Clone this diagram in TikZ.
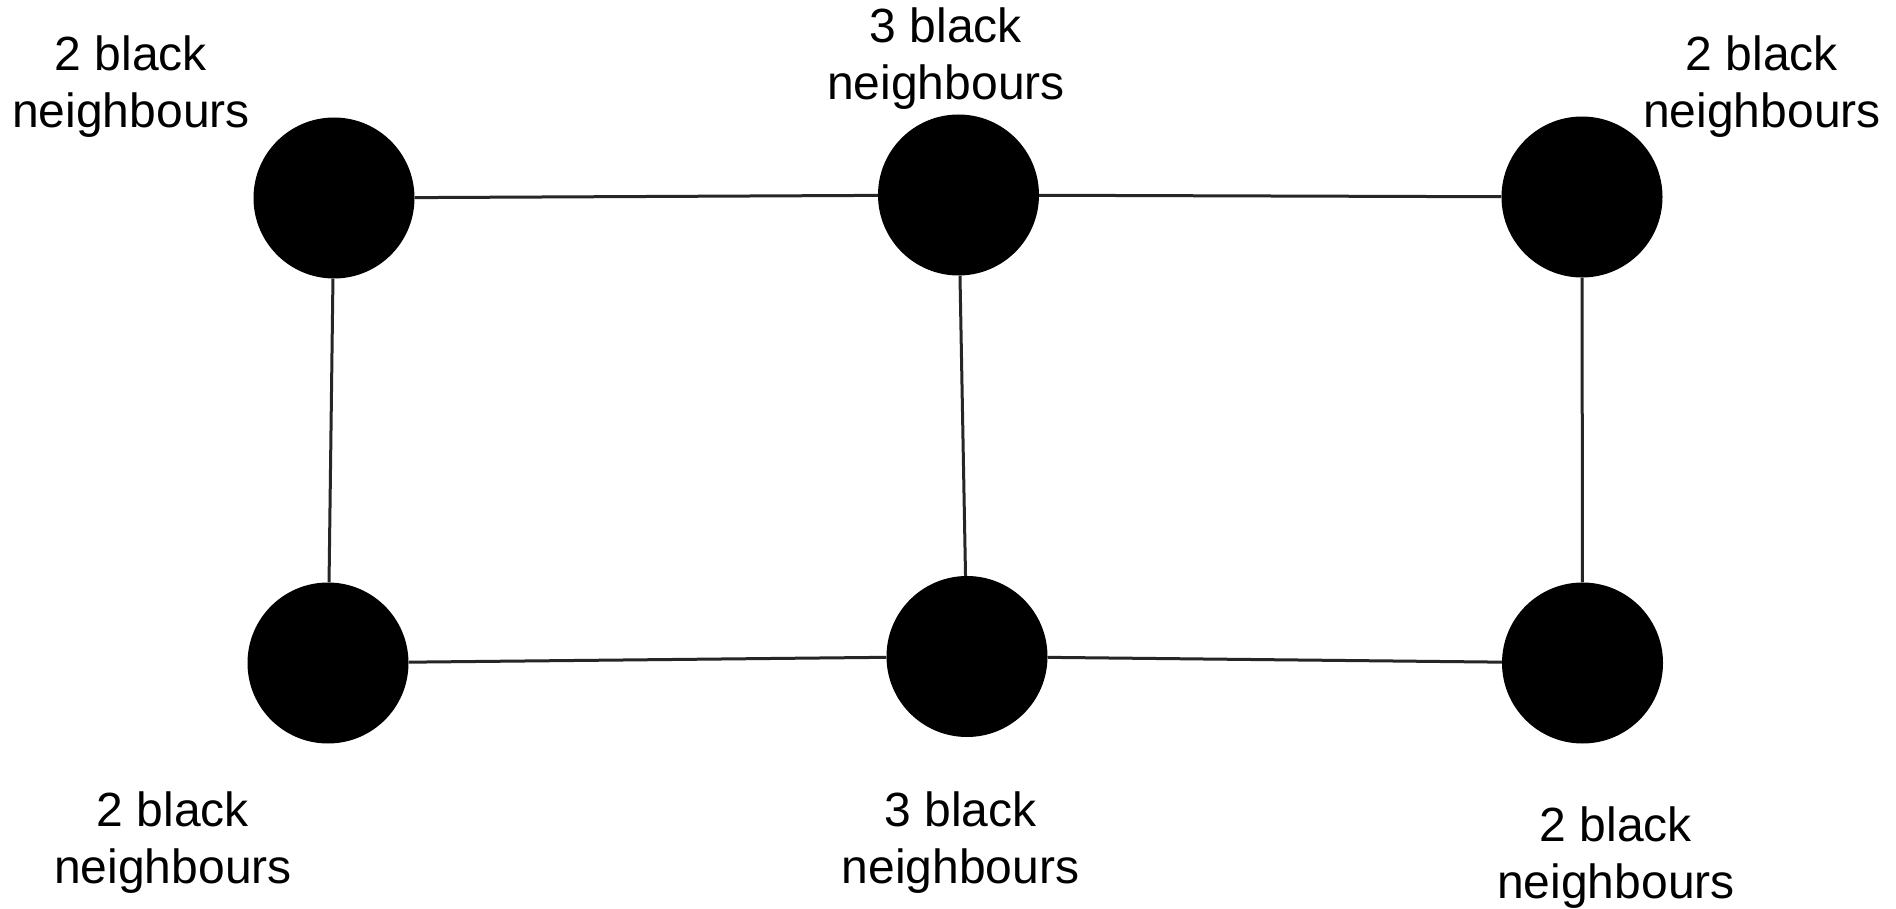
\documentclass[tikz,border=0pt]{standalone}
\usepackage{fontspec}
\setmainfont{Liberation Sans}
\begin{document}
\begin{tikzpicture}[x=1pt,y=-1pt,
  vertex/.style={circle,fill=black,draw=none,inner sep=0pt,minimum size=161pt},
  lbl/.style={anchor=base,align=center,inner sep=0pt,font=\fontsize{48}{57}\selectfont},
  edge/.style={line width=3pt,draw=black!85}]
\useasboundingbox (0,0) rectangle (1896,909);
\fill[white] (0,0) rectangle (1896,909);
\node[vertex] (tl) at (334,198) {};
\node[vertex] (tm) at (958.5,195) {};
\node[vertex] (tr) at (1582,197) {};
\node[vertex] (bl) at (328,663) {};
\node[vertex] (bm) at (967,656.5) {};
\node[vertex] (br) at (1582.5,663) {};
\draw[edge] (tl) -- (tm);
\draw[edge] (tm) -- (tr);
\draw[edge] (bl) -- (bm);
\draw[edge] (bm) -- (br);
\draw[edge] (tl) -- (bl);
\draw[edge] (tm) -- (bm);
\draw[edge] (tr) -- (br);
\node[lbl] (ltl) at (131,128) {2 black\\neighbours};
\node[lbl] (ltm) at (946,100) {3 black\\neighbours};
\node[lbl] (ltr) at (1762,128) {2 black\\neighbours};
\node[lbl] (lbl1) at (173,883) {2 black\\neighbours};
\node[lbl] (lbm) at (960.5,883) {3 black\\neighbours};
\node[lbl] (lbr) at (1616,898) {2 black\\neighbours};
\end{tikzpicture}
\end{document}
